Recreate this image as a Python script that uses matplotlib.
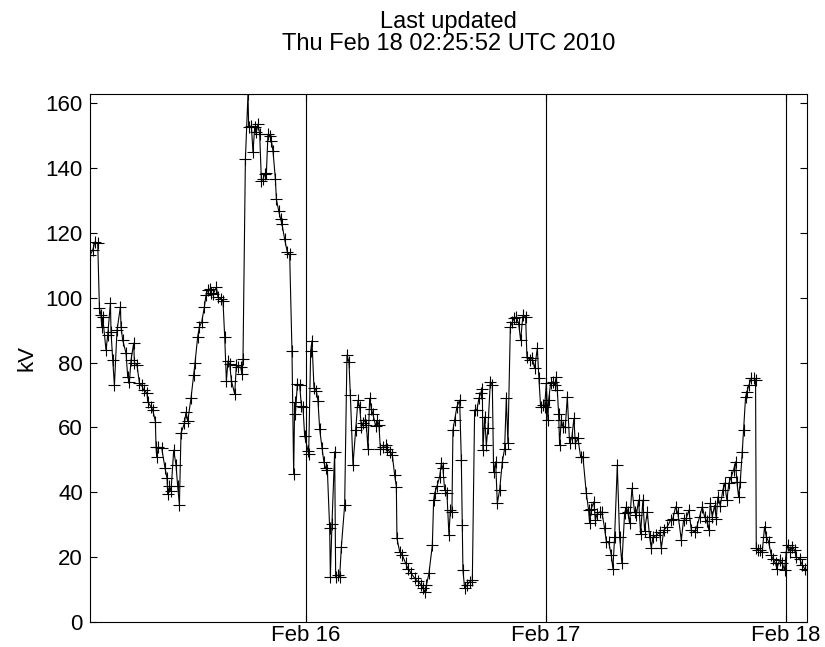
import datetime as dt
import numpy as np
import matplotlib
matplotlib.use('Agg')
import matplotlib.pyplot as plt
import matplotlib.dates as mdates

plt.rcParams['font.family'] = ['Liberation Sans', 'DejaVu Sans']

# sample times, hours after Feb 15 00:00 UTC
hours = [
    2.42, 2.70, 2.93, 3.20, 3.37, 3.53, 3.60, 3.70, 4.03, 4.20,
    4.47, 4.53, 4.70, 4.87, 5.13, 5.47, 5.53, 5.70, 6.03, 6.20,
    6.37, 6.53, 6.80, 6.87, 7.13, 7.37, 7.60, 7.80, 8.13, 8.20,
    8.53, 8.70, 8.97, 9.03, 9.10, 9.27, 9.60, 9.93, 10.13, 10.20,
    10.37, 10.53, 10.80, 11.03, 11.20, 11.37, 11.53, 11.87, 12.03, 12.20,
    12.53, 12.80, 12.93, 13.20, 13.37, 13.60, 13.87, 14.03, 14.20, 14.40,
    14.53, 14.73, 15.07, 15.23, 15.50, 15.73, 15.90, 16.07, 16.23, 16.40,
    16.57, 16.90, 17.07, 17.23, 17.50, 17.63, 17.73, 17.97, 18.23, 18.30,
    18.57, 18.73, 18.90, 19.07, 19.23, 19.40, 19.57, 19.73, 19.90, 20.07,
    20.23, 20.40, 20.57, 20.73, 20.97, 21.07, 21.30, 21.50, 21.63, 21.90,
    22.17, 22.40, 22.63, 22.80, 22.90, 22.97, 23.17, 23.40, 23.57, 23.73,
    23.90, 24.23, 24.30, 24.50, 24.63, 24.83, 25.07, 25.23, 25.40, 25.63,
    25.83, 26.00, 26.17, 26.40, 26.47, 26.63, 26.90, 27.00, 27.23, 27.40,
    27.57, 27.90, 28.13, 28.33, 28.47, 28.73, 29.00, 29.23, 29.40, 29.57,
    29.73, 29.90, 30.07, 30.23, 30.40, 30.57, 30.73, 31.00, 31.17, 31.33,
    31.47, 31.73, 32.00, 32.13, 32.40, 32.67, 32.90, 33.07, 33.13, 33.40,
    33.67, 34.00, 34.23, 34.57, 34.90, 35.23, 35.57, 35.73, 35.90, 36.07,
    36.33, 36.67, 36.80, 36.90, 37.13, 37.40, 37.57, 37.73, 37.90, 38.13,
    38.33, 38.47, 38.63, 38.73, 38.90, 39.13, 39.40, 39.57, 39.67, 39.73,
    39.90, 40.13, 40.40, 40.67, 40.90, 41.13, 41.33, 41.50, 41.67, 41.73,
    41.90, 42.07, 42.23, 42.47, 42.67, 42.80, 43.00, 43.17, 43.40, 43.67,
    43.90, 44.07, 44.23, 44.47, 44.67, 44.83, 45.07, 45.30, 45.50, 45.73,
    46.00, 46.13, 46.40, 46.67, 46.90, 47.17, 47.33, 47.50, 47.73, 47.90,
    48.07, 48.23, 48.30, 48.50, 48.73, 48.90, 49.07, 49.17, 49.30, 49.40,
    49.57, 49.73, 49.97, 50.17, 50.40, 50.63, 50.83, 50.97, 51.23, 51.50,
    51.73, 52.07, 52.30, 52.40, 52.57, 52.83, 52.97, 53.17, 53.40, 53.63,
    53.90, 54.07, 54.30, 54.57, 54.73, 54.90, 55.17, 55.40, 55.63, 55.90,
    56.07, 56.23, 56.40, 56.63, 56.90, 57.07, 57.30, 57.50, 57.73, 57.90,
    58.17, 58.40, 58.57, 58.73, 59.07, 59.40, 59.57, 59.83, 60.17, 60.50,
    60.73, 61.00, 61.23, 61.57, 61.80, 62.07, 62.33, 62.57, 62.90, 63.13,
    63.40, 63.67, 63.90, 64.13, 64.33, 64.47, 64.67, 64.90, 65.07, 65.23,
    65.47, 65.73, 65.90, 66.13, 66.33, 66.57, 66.80, 67.00, 67.13, 67.30,
    67.47, 67.67, 67.80, 68.00, 68.13, 68.33, 68.57, 68.80, 69.00, 69.07,
    69.23, 69.47, 69.67, 69.90, 70.07, 70.30, 70.57, 70.73, 71.00, 71.13,
    71.40, 71.67, 71.90, 72.07, 72.23, 72.47, 72.67, 72.90, 73.07, 73.40,
    73.67, 73.90, 74.13,
]

kv = [
    113.1, 114.7, 117.2, 116.8, 96.8, 94.6, 91.0, 94.0, 83.8, 88.5,
    98.3, 89.5, 80.8, 73.0, 90.0, 97.2, 91.0, 86.9, 82.9, 75.6,
    74.0, 80.8, 86.0, 80.0, 79.2, 73.7, 73.0, 71.5, 70.6, 67.9,
    66.4, 65.4, 61.8, 54.0, 50.9, 53.9, 53.6, 47.5, 44.4, 39.5,
    41.8, 40.3, 53.0, 48.4, 41.8, 36.1, 58.2, 61.3, 64.7, 61.9,
    69.0, 76.1, 79.8, 88.0, 91.0, 92.5, 97.2, 100.8, 102.3, 102.7,
    101.4, 101.0, 103.3, 100.2, 99.7, 99.0, 87.9, 74.4, 80.5, 79.5,
    74.4, 70.3, 79.3, 78.7, 78.6, 76.5, 81.0, 142.7, 162.8, 152.6,
    153.0, 144.8, 152.6, 151.2, 153.5, 150.6, 136.0, 136.5, 138.1, 138.6,
    150.4, 150.0, 148.4, 145.3, 136.6, 130.4, 126.8, 124.2, 122.7, 118.0,
    114.0, 113.4, 83.6, 45.6, 67.7, 64.2, 73.4, 73.0, 66.7, 66.2,
    57.4, 52.8, 51.8, 83.6, 86.7, 72.3, 71.3, 68.2, 59.5, 53.8,
    49.2, 47.4, 46.8, 28.9, 14.0, 30.3, 52.5, 14.0, 14.5, 14.0,
    23.2, 36.1, 82.3, 80.2, 70.0, 48.4, 59.2, 68.4, 66.4, 60.2,
    61.3, 62.3, 60.8, 53.5, 69.0, 65.7, 64.1, 60.4, 62.3, 60.8,
    53.5, 54.0, 54.5, 53.5, 52.5, 51.4, 45.3, 41.7, 25.8, 21.7,
    20.6, 18.1, 16.5, 15.0, 13.5, 12.5, 11.4, 10.4, 9.3, 11.3,
    15.0, 23.7, 37.6, 39.7, 41.8, 44.8, 48.9, 47.4, 40.7, 39.7,
    26.8, 34.5, 34.0, 59.2, 62.3, 66.4, 68.4, 49.9, 29.9, 16.0,
    10.4, 11.3, 12.4, 12.9, 65.4, 65.4, 69.0, 70.5, 72.0, 53.0,
    63.2, 54.6, 59.7, 74.1, 73.0, 46.3, 49.4, 36.6, 40.7, 49.4,
    53.5, 69.0, 55.1, 91.0, 92.5, 93.6, 94.1, 92.0, 86.9, 94.6,
    94.1, 81.8, 80.8, 81.3, 78.2, 84.4, 75.1, 66.4, 66.9, 66.4,
    73.6, 62.3, 68.4, 73.6, 74.1, 73.0, 75.6, 71.5, 64.3, 54.6,
    62.3, 60.2, 60.2, 69.4, 55.1, 57.1, 62.8, 55.1, 56.6, 51.0,
    51.0, 39.7, 34.5, 30.4, 35.0, 37.1, 31.4, 33.4, 33.9, 33.9,
    28.9, 24.8, 24.8, 20.6, 16.5, 26.2, 48.4, 26.2, 18.1, 33.5,
    35.5, 33.9, 30.4, 41.2, 33.9, 32.9, 37.6, 27.2, 37.6, 28.2,
    33.9, 26.3, 22.8, 26.2, 26.7, 27.7, 22.8, 28.4, 29.4, 31.4,
    31.9, 35.5, 33.5, 25.3, 31.4, 32.0, 34.5, 28.4, 27.8, 29.4,
    32.5, 35.5, 32.5, 31.0, 28.4, 36.6, 32.5, 35.9, 31.9, 38.6,
    35.9, 40.7, 42.8, 37.6, 42.8, 44.8, 46.9, 49.4, 43.3, 38.6,
    43.3, 52.5, 59.2, 69.4, 71.0, 73.0, 75.1, 75.1, 74.6, 22.7,
    22.2, 22.2, 21.7, 29.4, 26.3, 24.8, 20.6, 19.5, 18.1, 16.5,
    19.1, 18.1, 16.0, 21.7, 23.7, 21.7, 23.2, 22.2, 20.1, 19.5,
    17.6, 16.5, 16.0,
]

day_marks = ['2010-02-16', '2010-02-17', '2010-02-18']
yticks = np.arange(0, 161, 20)
updated = 'Thu Feb 18 02:25:52 UTC 2010'

start = dt.datetime(2010, 2, 15)
t = [start + dt.timedelta(hours=h) for h in hours]

fig = plt.figure(figsize=(8.25, 6.47), dpi=100)
ax = fig.add_axes([0.109, 0.0386, 0.869, 0.816])

ax.plot(t, kv, '-', color='k', lw=0.8, marker='+', ms=8, mew=0.8)

# midnight markers
for d in day_marks:
    ax.axvline(dt.datetime.fromisoformat(d), color='k', lw=0.8)

ax.set_xlim(t[0], t[-1])
ax.set_ylim(0, max(kv))
ax.set_yticks(yticks)
ax.xaxis.set_major_locator(mdates.DayLocator())
ax.xaxis.set_major_formatter(mdates.DateFormatter('%b %d'))

ax.tick_params(direction='in', length=5, width=0.8, labelsize=16,
               top=True, right=True, pad=5)
ax.tick_params(axis='x', pad=2)
for s in ax.spines.values():
    s.set_linewidth(0.8)

ax.set_ylabel('kV', fontsize=16, labelpad=6)
ax.set_title('Last updated\n' + updated, fontsize=17, pad=32, linespacing=1.0)

fig.savefig('out.png', dpi=100)
